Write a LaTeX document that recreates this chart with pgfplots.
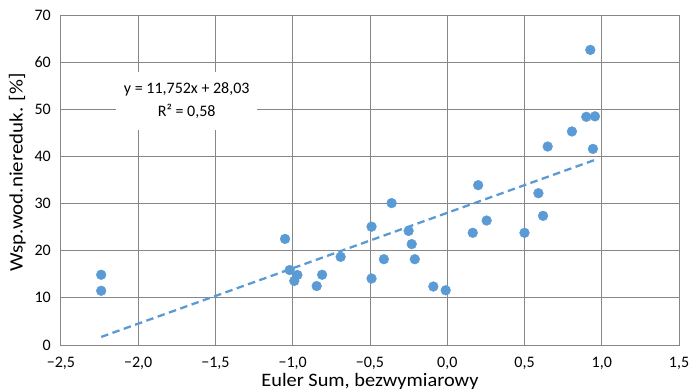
\documentclass[border=0pt]{standalone}
\usepackage{pgfplots}
\pgfplotsset{compat=1.18}
\usepackage{fontspec}
\setmainfont{Carlito}
\newfontfamily\xlabfont[FakeStretch=1.07]{Carlito}
\newfontfamily\ylabfont[FakeStretch=1.10]{Carlito}
\definecolor{ptblue}{HTML}{5B9BD5}
\definecolor{gridgray}{HTML}{878787}
\begin{document}
\begin{tikzpicture}
\begin{axis}[
  scale only axis,
  width=618bp, height=330bp,
  xmin=-2.5, xmax=1.5, ymin=0, ymax=70,
  xtick={-2.5,-2,-1.5,-1,-0.5,0,0.5,1,1.5},
  xticklabels={{−2,5},{−2,0},{−1,5},{−1,0},{−0,5},{0,0},{0,5},{1,0},{1,5}},
  ytick={0,10,...,70},
  yticklabel style={/pgf/number format/assume math mode=true, inner sep=0pt, anchor=east, xshift=-10bp},
  xticklabel style={inner sep=0pt, anchor=north, yshift=-12bp},
  tick label style={font=\fontsize{16bp}{18bp}\selectfont},
  tick style={draw=none},
  grid=major,
  major grid style={draw=gridgray, line width=1bp},
  axis line style={draw=gridgray, line width=1bp},
  xlabel={Euler Sum, bezwymiarowy},
  ylabel={Wsp.wod.niereduk. [\%]},
  xlabel style={font=\xlabfont\fontsize{19bp}{21bp}\selectfont, inner sep=0pt, anchor=base, at={([yshift=-41.7bp]rel axis cs:0.5,0)}},
  ylabel style={font=\ylabfont\fontsize{19bp}{21bp}\selectfont, inner sep=0pt, anchor=base, at={([xshift=-38.3bp]rel axis cs:0,0.5227)}},
  clip=false,
]
\addplot[only marks, mark=*, mark size=4.9bp, mark options={draw=ptblue, fill=ptblue}] coordinates {
(-2.24,14.9) (-2.24,11.5)
(-1.05,22.5) (-1.02,15.9) (-0.97,14.85) (-0.99,13.6) (-0.845,12.5) (-0.81,14.9)
(-0.69,18.7) (-0.49,25.1) (-0.49,14.1) (-0.36,30.1) (-0.41,18.2)
(-0.25,24.2) (-0.23,21.4) (-0.21,18.2) (-0.09,12.4) (-0.01,11.6)
(0.165,23.8) (0.20,33.9) (0.255,26.4) (0.50,23.8) (0.59,32.2) (0.62,27.4)
(0.926,62.6) (0.90,48.4) (0.956,48.5) (0.807,45.3) (0.65,42.1) (0.943,41.6)
};
\addplot[ptblue, line width=2.3bp, dash pattern=on 7.5bp off 4.5bp] coordinates {(-2.24,1.71) (0.956,39.27)};
\node[fill=white, align=center, minimum width=141bp, minimum height=58bp, inner sep=0pt, font=\fontsize{16bp}{23.5bp}\selectfont] at (axis cs:-1.686,51.8) {y = 11,752x + 28,03\\R² = 0,58};
\end{axis}
\pgfresetboundingbox
\path (current axis.south west) ++(-61bp,-45bp) rectangle ++(691bp,390bp);
\end{tikzpicture}
\end{document}
